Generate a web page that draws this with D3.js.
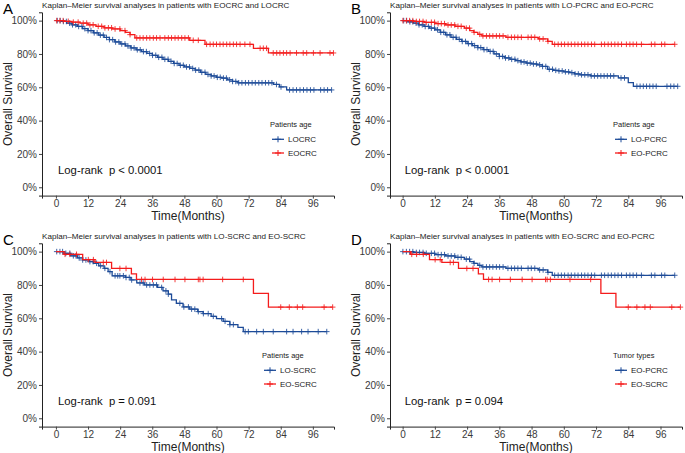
<!DOCTYPE html>
<html>
<head>
<meta charset="utf-8">
<script src="https://cdn.jsdelivr.net/npm/d3@7"></script>
<style>
  body { margin: 0; background: #fff; }
  svg { display: block; font-family: "Liberation Sans", Arial, sans-serif; }
</style>
</head>
<body>
<svg width="685" height="453"></svg>
<script>
const monthTicks = [0, 12, 24, 36, 48, 60, 72, 84, 96]
const survTicks = [0, 0.2, 0.4, 0.6, 0.8, 1]

// LOCRC (late onset, all)
const locrcTime = [0, 2, 4, 6, 8, 10, 12, 14, 16, 18, 20, 22, 24, 26, 28, 30, 32, 34, 36, 38, 40, 42, 44, 46, 48, 50, 52, 54, 56, 58, 60, 62, 64, 66, 68, 81.3, 83.5, 86.2]
const locrcSurv = [1, 0.995, 0.985, 0.975, 0.965, 0.952, 0.94, 0.927, 0.913, 0.899, 0.886, 0.872, 0.86, 0.848, 0.836, 0.825, 0.814, 0.803, 0.792, 0.78, 0.768, 0.756, 0.743, 0.732, 0.722, 0.713, 0.703, 0.69, 0.677, 0.668, 0.66, 0.655, 0.645, 0.635, 0.627, 0.617, 0.602, 0.584]
const locrcCensor = [0.5, 1.6, 2.8, 3.9, 5.1, 6.2, 7.4, 8.5, 9.7, 10.8, 12, 13.1, 14.3, 15.4, 16.6, 17.7, 18.9, 20, 21.2, 22.3, 23.5, 24.6, 25.8, 26.9, 28.1, 29.2, 30.4, 31.5, 32.7, 33.8, 35, 36.1, 37.3, 38.4, 39.6, 40.7, 41.9, 43, 44.2, 45.3, 46.5, 47.6, 48.8, 49.9, 51.1, 52.2, 53.4, 54.5, 55.7, 56.8, 58, 59.1, 60.3, 61.4, 62.6, 63.7, 64.9, 66, 67.2, 68.3, 69.5, 70.8, 72, 73.3, 74.5, 75.8, 77, 78.3, 79.5, 80.7, 82.4, 84.1, 87.3, 88.6, 89.9, 91.2, 92.5, 93.8, 95.1, 96.4, 98.9, 100.2, 101.5, 103]

// EOCRC (early onset, all)
const eocrcTime = [0, 3, 6, 9, 12, 15, 18, 21, 24, 26, 27.7, 29.5, 50, 55.7, 73.8, 79.4]
const eocrcSurv = [1, 0.996, 0.991, 0.985, 0.975, 0.966, 0.957, 0.95, 0.94, 0.93, 0.916, 0.896, 0.882, 0.858, 0.834, 0.806]
const eocrcCensor = [0.3, 1.5, 2.7, 4.6, 6.5, 8.3, 10.2, 11.5, 12.7, 13.9, 15.8, 17.1, 18.3, 19.6, 20.8, 22.1, 23.9, 25.8, 27.7, 30.2, 31.4, 32.6, 33.9, 35.1, 36.4, 37.6, 38.9, 40.7, 42, 43.2, 44.5, 45.7, 47, 48.2, 49.5, 51.3, 53.2, 56.3, 57.6, 58.8, 60, 61.3, 62.5, 63.8, 65, 66.3, 67.5, 68.8, 70.6, 72.5, 76.3, 77.5, 78.7, 81.2, 82.5, 83.7, 85, 86.2, 87.5, 89.9, 92.4, 93.7, 96.2, 98.7, 102.4, 103.7]

// LO-PCRC
const lopcrcTime = [0, 2, 4, 6, 8, 10, 12, 14, 16, 18, 20, 22, 24, 26, 28, 30, 32, 34, 36, 38, 40, 42, 44, 46, 48, 50, 52, 54, 56, 58, 60, 62, 64, 66, 70, 80.3, 84, 85.9]
const lopcrcSurv = [1, 0.993, 0.985, 0.975, 0.965, 0.955, 0.945, 0.93, 0.915, 0.9, 0.888, 0.875, 0.862, 0.85, 0.838, 0.826, 0.815, 0.8, 0.785, 0.776, 0.768, 0.76, 0.752, 0.745, 0.74, 0.735, 0.725, 0.708, 0.702, 0.698, 0.693, 0.688, 0.68, 0.675, 0.668, 0.656, 0.628, 0.606]
const lopcrcCensor = [0.4, 1.5, 2.7, 3.8, 5, 6.1, 7.3, 8.4, 9.6, 10.7, 11.9, 13, 14.2, 15.3, 16.5, 17.6, 18.8, 19.9, 21.1, 22.2, 23.4, 24.5, 25.7, 26.8, 28, 29.1, 30.3, 31.4, 32.6, 33.7, 34.9, 36, 37.2, 38.3, 39.5, 40.6, 41.8, 42.9, 44.1, 45.2, 46.4, 47.5, 48.7, 49.8, 51, 52.1, 53.3, 54.6, 55.8, 57, 58.2, 59.4, 60.6, 61.8, 63, 64.2, 65.4, 66.6, 67.8, 69, 70.2, 71.4, 72.6, 73.8, 75, 76.2, 77.4, 78.6, 81.3, 82.6, 87.2, 88.4, 89.6, 90.8, 92, 93.2, 94.4, 98.4, 99.8, 101, 102.4]

// EO-PCRC
const eopcrcTime = [0, 4, 8, 12, 16, 19.5, 23, 25, 26.5, 28, 29.5, 38.5, 50.5, 54, 55.7]
const eopcrcSurv = [1, 0.995, 0.99, 0.982, 0.974, 0.966, 0.955, 0.94, 0.93, 0.918, 0.908, 0.9, 0.89, 0.876, 0.858]
const eopcrcCensor = [0.1, 1.4, 2.6, 3.8, 5.1, 6.3, 7.6, 8.8, 10.7, 11.9, 13.2, 14.4, 15.6, 16.9, 18.1, 19.4, 20.6, 21.8, 23.7, 24.9, 26.6, 28.7, 29.9, 31.2, 32.4, 33.6, 34.9, 36.1, 37.4, 39.2, 40.5, 41.7, 42.9, 44.2, 46.7, 47.9, 49.2, 51, 52.3, 54.1, 56.6, 57.9, 59.1, 60.3, 61.6, 62.8, 64.1, 65.3, 66.6, 67.8, 69, 70.3, 71.5, 74, 75.2, 76.5, 77.7, 79, 80.2, 81.5, 83.3, 84.6, 85.8, 87.1, 88.9, 92.6, 93.9, 96.4, 97.6, 101.3]

// LO-SCRC
const loscrcTime = [0, 3, 5.5, 8, 10, 12.5, 14, 16, 18, 19.5, 21, 26, 28, 30.2, 33, 38, 40, 42, 43.2, 45, 47.5, 50, 53, 55, 58, 60, 62.5, 65, 68, 70]
const loscrcSurv = [1, 0.99, 0.975, 0.962, 0.95, 0.94, 0.93, 0.915, 0.9, 0.88, 0.855, 0.845, 0.83, 0.812, 0.8, 0.785, 0.765, 0.745, 0.71, 0.69, 0.668, 0.655, 0.64, 0.628, 0.612, 0.598, 0.582, 0.562, 0.545, 0.52]
const loscrcCensor = [0.3, 1.5, 2.5, 3.7, 5.2, 6.5, 7.5, 8.7, 10, 11.2, 12.7, 13.9, 15.2, 16.7, 18.3, 20.2, 22.1, 23.1, 23.9, 25.2, 26.2, 27.4, 28.3, 31.4, 32.6, 33.9, 35.1, 36.4, 37.6, 39.5, 41.1, 42, 46.3, 47.8, 49.5, 50.7, 51.9, 53.2, 55.1, 56.9, 58.8, 61.9, 63.2, 65, 66.3, 70.7, 71.9, 75, 77.5, 81.2, 86.2, 88.6, 91.8, 94.2, 98, 101.2]

// EO-SCRC
const eoscrcTime = [0, 3, 10, 14.6, 20.8, 28.2, 30.1, 73.8, 79.4]
const eoscrcSurv = [1, 0.984, 0.952, 0.935, 0.899, 0.866, 0.833, 0.75, 0.667]
const eoscrcCensor = [3.4, 5.2, 7.7, 12.1, 14, 17.7, 18.9, 23.9, 26.2, 32, 33.3, 36.1, 40.1, 44.5, 48.2, 53.2, 53.8, 55, 62.3, 70, 84, 87.2, 90.2, 92.2, 100.2, 103.4]

const blue = "#1d4b98"
const red = "#f41c1c"

const svg = d3.select("svg")

const panels = [
  { letter: "A", title: "Kaplan\u2013Meier survival analyses in patients with EOCRC and LOCRC",
    pval: "Log-rank  p < 0.0001", legendTitle: "Patients age",
    series: [
      { name: "LOCRC", color: blue, time: locrcTime, surv: locrcSurv, censor: locrcCensor },
      { name: "EOCRC", color: red, time: eocrcTime, surv: eocrcSurv, censor: eocrcCensor }],
    x: [42, 334], xDom: [-5.2, 103.9], top: 0, leg: [270, 127] },
  { letter: "B", title: "Kaplan\u2013Meier survival analyses in patients with LO-PCRC and EO-PCRC",
    pval: "Log-rank  p < 0.0001", legendTitle: "Patients age",
    series: [
      { name: "LO-PCRC", color: blue, time: lopcrcTime, surv: lopcrcSurv, censor: lopcrcCensor },
      { name: "EO-PCRC", color: red, time: eopcrcTime, surv: eopcrcSurv, censor: eopcrcCensor }],
    x: [390, 682], xDom: [-4.7, 104.0], top: 0, leg: [613, 127] },
  { letter: "C", title: "Kaplan\u2013Meier survival analyses in patients with LO-SCRC and EO-SCRC",
    pval: "Log-rank  p = 0.091", legendTitle: "Patients age",
    series: [
      { name: "LO-SCRC", color: blue, time: loscrcTime, surv: loscrcSurv, censor: loscrcCensor },
      { name: "EO-SCRC", color: red, time: eoscrcTime, surv: eoscrcSurv, censor: eoscrcCensor }],
    x: [42, 334], xDom: [-5.2, 103.9], top: 231, leg: [266, 127] },
  { letter: "D", title: "Kaplan\u2013Meier survival analyses in patients with EO-SCRC and EO-PCRC",
    pval: "Log-rank  p = 0.094", legendTitle: "Tumor types",
    series: [
      { name: "EO-PCRC", color: blue, time: eopcrcTime, surv: eopcrcSurv, censor: eopcrcCensor },
      { name: "EO-SCRC", color: red, time: eoscrcTime, surv: eoscrcSurv, censor: eoscrcCensor }],
    x: [390, 682], xDom: [-4.7, 104.0], top: 231, leg: [613, 127] }
]

function survAt(s, t) {
  let v = s.surv[0]
  s.time.forEach((tt, i) => { if (tt <= t) v = s.surv[i] })
  return v
}

function drawCross(g, cx, cy, color, size) {
  g.append("path")
    .attr("d", `M${cx - size},${cy}H${cx + size}M${cx},${cy - size}V${cy + size}`)
    .attr("stroke", color).attr("stroke-width", 1).attr("fill", "none")
}

panels.forEach(p => {
  const g = svg.append("g").attr("transform", `translate(0,${p.top})`)
  const x = d3.scaleLinear().domain(p.xDom).range(p.x)
  const y = d3.scaleLinear().domain([-0.05, 1.05]).range([195.6, 12.3])

  g.append("text").attr("x", p.x[0] - 39).attr("y", 14)
    .attr("font-size", 15).attr("fill", "#000").text(p.letter)
  g.append("text").attr("x", p.x[0]).attr("y", 8)
    .attr("font-size", 8.1).attr("fill", "#222").text(p.title)

  const xAxis = g.append("g").attr("transform", "translate(0,195.6)")
    .call(d3.axisBottom(x).tickValues(monthTicks).tickSize(3).tickPadding(1.5))
  const yAxis = g.append("g").attr("transform", `translate(${p.x[0]},0)`)
    .call(d3.axisLeft(y).tickValues(survTicks).tickFormat(d3.format(".0%")).tickSize(3).tickPadding(2))
  ;[xAxis, yAxis].forEach(a => {
    a.select(".domain").attr("stroke", "#222").attr("stroke-width", 1)
    a.selectAll(".tick line").attr("stroke", "#444")
    a.selectAll(".tick text").attr("font-size", 10).attr("fill", "#3a3a3a")
      .attr("font-family", "Liberation Sans, Arial, sans-serif")
  })

  g.append("text").attr("x", (p.x[0] + p.x[1]) / 2).attr("y", 219.5)
    .attr("text-anchor", "middle").attr("font-size", 12).attr("fill", "#222").text("Time(Months)")
  g.append("text")
    .attr("transform", `translate(${p.x[0] - 30},104) rotate(-90)`)
    .attr("text-anchor", "middle").attr("font-size", 12).attr("fill", "#222").text("Overall Survival")

  const line = d3.line().curve(d3.curveStepAfter).x(d => x(d[0])).y(d => y(d[1]))
  p.series.forEach(s => {
    const end = Math.max(d3.max(s.censor), d3.max(s.time))
    const pts = s.time.map((t, i) => [t, s.surv[i]])
    pts.push([end, s.surv[s.surv.length - 1]])
    g.append("path").attr("d", line(pts)).attr("fill", "none")
      .attr("stroke", s.color).attr("stroke-width", 1.3)
    const cg = g.append("g").attr("opacity", 0.85)
    s.censor.forEach(c => drawCross(cg, x(c), y(survAt(s, c)), s.color, 2.8))
  })

  g.append("text").attr("x", x(0.8)).attr("y", 174)
    .attr("font-size", 11.3).attr("fill", "#111")
    .style("white-space", "pre").text(p.pval)

  const lx = p.leg[0] - (p.letter === "C" ? 4 : 0)
  g.append("text").attr("x", lx).attr("y", p.leg[1])
    .attr("font-size", 7.5).attr("fill", "#222").text(p.legendTitle)
  p.series.forEach((s, i) => {
    const ky = p.leg[1] + 12.3 + i * 13.7
    g.append("line").attr("x1", lx + 2).attr("x2", lx + 14).attr("y1", ky).attr("y2", ky)
      .attr("stroke", s.color).attr("stroke-width", 1.3)
    drawCross(g, lx + 8, ky, s.color, 3)
    g.append("text").attr("x", lx + 18).attr("y", ky + 3)
      .attr("font-size", 8).attr("fill", "#222").text(s.name)
  })
})
</script>
</body>
</html>
